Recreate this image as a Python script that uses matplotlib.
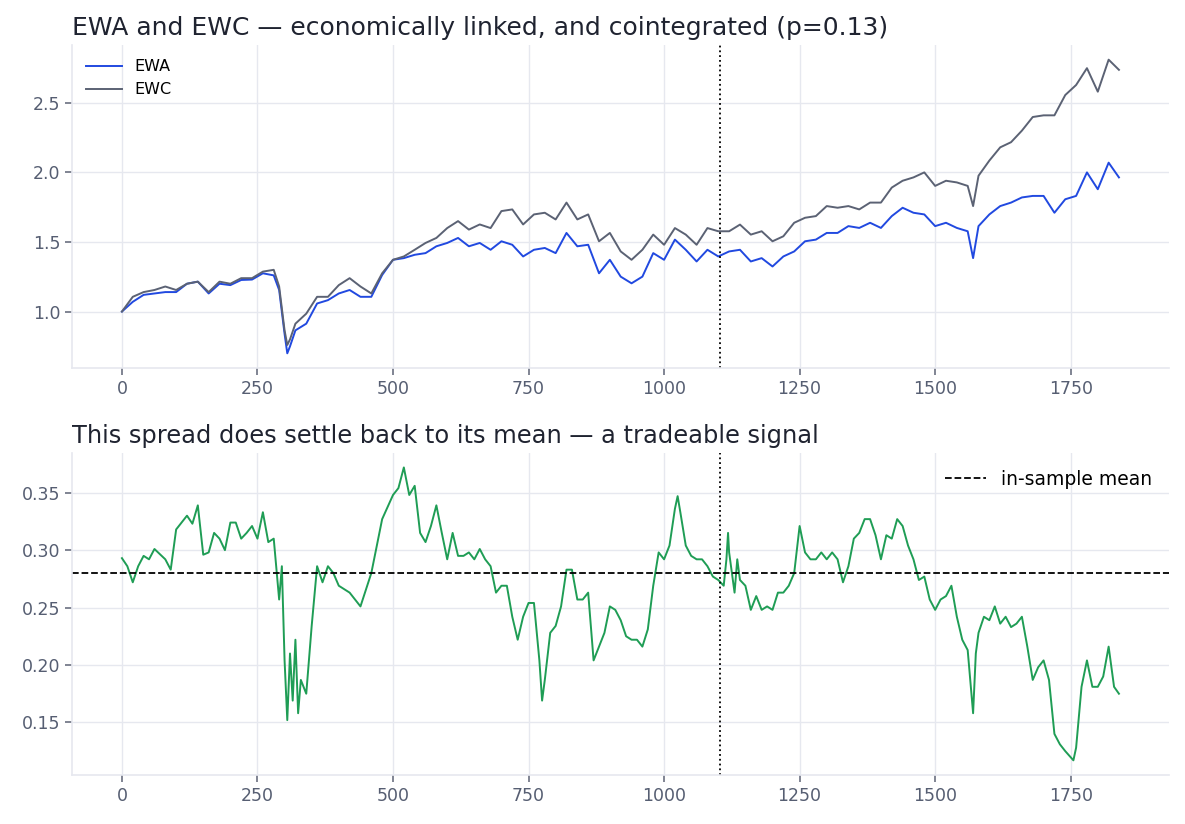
import numpy as np
import matplotlib
matplotlib.use("Agg")
import matplotlib.pyplot as plt

# prices at roughly every 20th step
idx_px = [0, 20, 40, 60, 80, 100, 120, 140, 160, 180, 200, 220, 240, 260, 280, 290,
          300, 305, 310, 320, 340, 360, 380, 400, 420, 440, 460, 480, 500, 520, 540,
          560, 580, 600, 620, 640, 660, 680, 700, 720, 740, 760, 780, 800, 820, 840,
          860, 880, 900, 920, 940, 960, 980, 1000, 1020, 1040, 1060, 1080, 1100, 1120,
          1140, 1160, 1180, 1200, 1220, 1240, 1260, 1280, 1300, 1320, 1340, 1360, 1380,
          1400, 1420, 1440, 1460, 1480, 1500, 1520, 1540, 1560, 1570, 1580, 1600, 1620,
          1640, 1660, 1680, 1700, 1720, 1740, 1760, 1780, 1800, 1820, 1839]
ewa = [1.00, 1.07, 1.12, 1.13, 1.14, 1.14, 1.20, 1.215, 1.13, 1.20, 1.19, 1.227, 1.23,
       1.275, 1.26, 1.155, 0.84, 0.70, 0.75, 0.865, 0.913, 1.058, 1.082, 1.13, 1.155,
       1.106, 1.106, 1.263, 1.372, 1.384, 1.408, 1.42, 1.469, 1.493, 1.529, 1.469,
       1.493, 1.444, 1.505, 1.48, 1.396, 1.444, 1.457, 1.42, 1.565, 1.469, 1.48, 1.275,
       1.372, 1.251, 1.203, 1.251, 1.42, 1.372, 1.517, 1.444, 1.36, 1.444, 1.396, 1.432,
       1.444, 1.36, 1.384, 1.324, 1.396, 1.432, 1.505, 1.517, 1.565, 1.565, 1.614,
       1.601, 1.638, 1.601, 1.686, 1.746, 1.71, 1.698, 1.614, 1.638, 1.601, 1.577,
       1.384, 1.614, 1.698, 1.758, 1.783, 1.82, 1.831, 1.831, 1.71, 1.807, 1.831, 2.0,
       1.879, 2.07, 1.964]
ewc = [1.00, 1.106, 1.14, 1.155, 1.18, 1.155, 1.20, 1.215, 1.14, 1.215, 1.20, 1.24,
       1.24, 1.287, 1.30, 1.18, 0.865, 0.76, 0.80, 0.913, 0.985, 1.106, 1.106, 1.19,
       1.24, 1.18, 1.13, 1.275, 1.372, 1.396, 1.444, 1.493, 1.529, 1.60, 1.65, 1.589,
       1.626, 1.60, 1.722, 1.734, 1.626, 1.698, 1.71, 1.662, 1.783, 1.662, 1.698, 1.505,
       1.565, 1.432, 1.372, 1.444, 1.553, 1.48, 1.60, 1.553, 1.48, 1.60, 1.577, 1.577,
       1.625, 1.553, 1.577, 1.505, 1.541, 1.638, 1.674, 1.686, 1.758, 1.746, 1.758,
       1.734, 1.783, 1.783, 1.891, 1.94, 1.964, 2.0, 1.903, 1.94, 1.928, 1.903, 1.758,
       1.976, 2.085, 2.18, 2.217, 2.30, 2.398, 2.41, 2.41, 2.556, 2.628, 2.749, 2.58,
       2.81, 2.737]

# spread, read at roughly every 10th step
idx_sp = [0, 10, 20, 30, 40, 50, 60, 80, 90, 100, 120, 130, 140, 150, 160, 170, 180,
          190, 200, 210, 220, 230, 240, 250, 260, 270, 280, 290, 295, 300, 305, 310,
          315, 320, 325, 330, 340, 350, 360, 370, 380, 390, 400, 420, 440, 460, 480,
          500, 510, 520, 530, 540, 550, 560, 570, 580, 590, 600, 610, 620, 630, 640,
          650, 660, 670, 680, 690, 700, 710, 720, 730, 740, 750, 760, 770, 775, 780,
          790, 800, 810, 820, 830, 840, 850, 860, 870, 880, 890, 900, 910, 920, 930,
          940, 950, 960, 970, 980, 990, 1000, 1010, 1020, 1025, 1030, 1040, 1050, 1060,
          1070, 1080, 1090, 1100, 1110, 1115, 1118, 1120, 1130, 1135, 1140, 1150, 1160,
          1170, 1180, 1190, 1200, 1210, 1220, 1230, 1240, 1250, 1260, 1270, 1280, 1290,
          1300, 1310, 1320, 1330, 1340, 1350, 1360, 1370, 1380, 1390, 1400, 1410, 1420,
          1430, 1440, 1450, 1460, 1470, 1480, 1490, 1500, 1510, 1520, 1530, 1540, 1550,
          1560, 1570, 1575, 1580, 1590, 1600, 1610, 1620, 1630, 1640, 1650, 1660, 1670,
          1680, 1690, 1700, 1710, 1720, 1730, 1740, 1755, 1760, 1770, 1780, 1790, 1800,
          1810, 1820, 1830, 1839]
spread = [0.293, 0.286, 0.272, 0.286, 0.295, 0.292, 0.301, 0.292, 0.283, 0.318, 0.33,
          0.323, 0.339, 0.296, 0.298, 0.315, 0.31, 0.30, 0.324, 0.324, 0.31, 0.315,
          0.321, 0.31, 0.333, 0.307, 0.31, 0.257, 0.286, 0.204, 0.152, 0.21, 0.169,
          0.222, 0.158, 0.187, 0.175, 0.234, 0.286, 0.272, 0.286, 0.28, 0.269, 0.263,
          0.251, 0.28, 0.327, 0.348, 0.354, 0.372, 0.348, 0.356, 0.315, 0.307, 0.321,
          0.339, 0.315, 0.292, 0.315, 0.295, 0.295, 0.298, 0.292, 0.301, 0.292, 0.286,
          0.263, 0.269, 0.269, 0.242, 0.222, 0.242, 0.254, 0.254, 0.204, 0.169, 0.187,
          0.228, 0.234, 0.251, 0.283, 0.283, 0.257, 0.257, 0.263, 0.204, 0.216, 0.228,
          0.251, 0.248, 0.239, 0.225, 0.222, 0.222, 0.216, 0.231, 0.269, 0.298, 0.292,
          0.304, 0.336, 0.347, 0.333, 0.304, 0.295, 0.292, 0.292, 0.286, 0.277, 0.274,
          0.269, 0.292, 0.315, 0.298, 0.263, 0.292, 0.274, 0.269, 0.248, 0.26, 0.248,
          0.251, 0.248, 0.263, 0.263, 0.269, 0.28, 0.321, 0.298, 0.292, 0.292, 0.298,
          0.292, 0.298, 0.292, 0.272, 0.286, 0.31, 0.315, 0.327, 0.327, 0.313, 0.292,
          0.313, 0.31, 0.327, 0.321, 0.304, 0.292, 0.274, 0.277, 0.257, 0.248, 0.257,
          0.26, 0.269, 0.242, 0.222, 0.213, 0.158, 0.21, 0.228, 0.242, 0.239, 0.251,
          0.236, 0.242, 0.233, 0.236, 0.242, 0.216, 0.187, 0.198, 0.204, 0.187, 0.14,
          0.131, 0.125, 0.117, 0.128, 0.181, 0.204, 0.181, 0.181, 0.19, 0.216, 0.181,
          0.175]

split_at = 1104
mean_spread = 0.28

c_ewa = "#2149e0"
c_ewc = "#5b6274"
c_spread = "#1f9d55"
grid_c = "#e6e8ef"
tick_c = "#565e72"

plt.rcParams["font.family"] = "DejaVu Sans"
fig = plt.figure(figsize=(11.85, 8.24), dpi=100)
ax1 = fig.add_axes([0.0608, 0.5534, 0.926, 0.392])
ax2 = fig.add_axes([0.0608, 0.0595, 0.926, 0.391])


def style(ax):
    ax.set_facecolor("white")
    ax.grid(True, color=grid_c, linewidth=1.0)
    ax.set_axisbelow(True)
    for s in ["top", "right"]:
        ax.spines[s].set_visible(False)
    for s in ["left", "bottom"]:
        ax.spines[s].set_color(grid_c)
        ax.spines[s].set_linewidth(1.2)
    ax.tick_params(colors=tick_c, labelsize=12.5, length=5, width=1.2, color="#6b7080")
    ax.set_xticks([0, 250, 500, 750, 1000, 1250, 1500, 1750])


ax1.plot(idx_px, ewa, color=c_ewa, lw=1.4, label="EWA")
ax1.plot(idx_px, ewc, color=c_ewc, lw=1.4, label="EWC")
ax1.axvline(split_at, color="black", ls=":", lw=1.3)
style(ax1)
ax1.set_yticks([1.0, 1.5, 2.0, 2.5])
ax1.set_title("EWA and EWC — economically linked, and cointegrated (p=0.13)",
              loc="left", fontsize=18, color="#1f2330", pad=7)
ax1.legend(loc="upper left", frameon=False, fontsize=11.5, handlelength=2.2)

ax2.plot(idx_sp, spread, color=c_spread, lw=1.4)
ax2.axhline(mean_spread, color="black", ls="--", lw=1.3, label="in-sample mean")
ax2.axvline(split_at, color="black", ls=":", lw=1.3)
style(ax2)
ax2.set_yticks([0.15, 0.20, 0.25, 0.30, 0.35])
ax2.set_title("This spread does settle back to its mean — a tradeable signal",
              loc="left", fontsize=17.4, color="#1f2330", pad=7)
ax2.legend(loc="upper right", frameon=False, fontsize=13.5, handlelength=2.2)

ax1.set_xlim(-92, 1932)
ax2.set_xlim(-92, 1932)

fig.savefig("out.png", dpi=100)
